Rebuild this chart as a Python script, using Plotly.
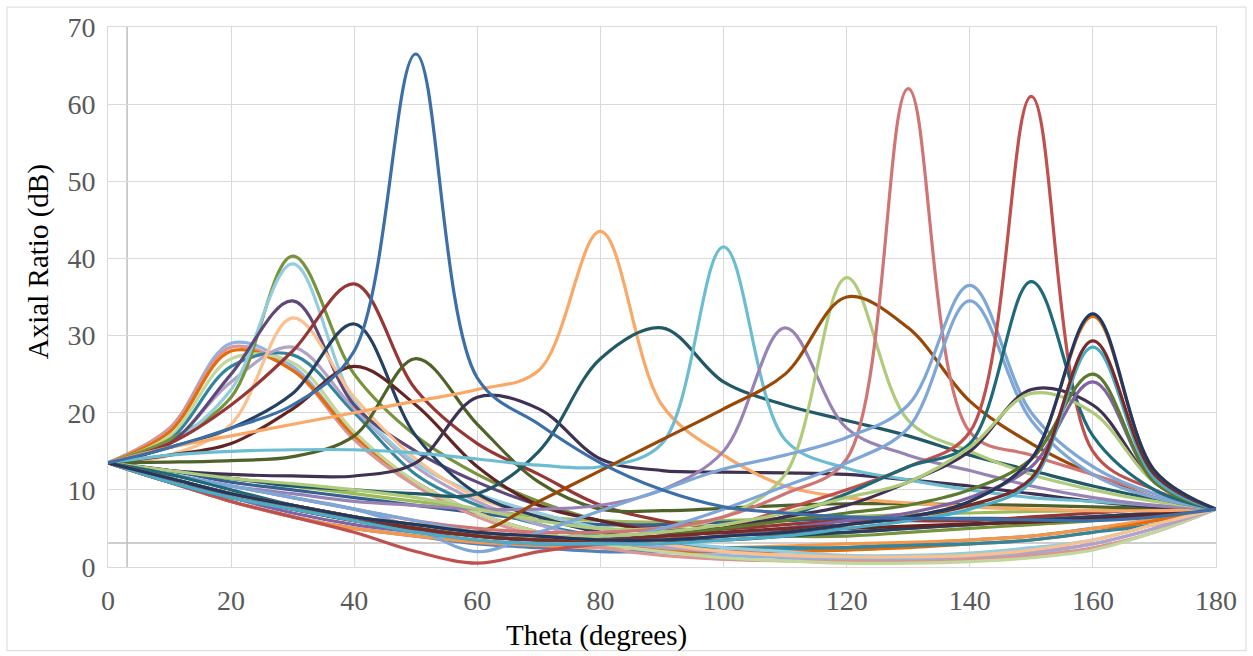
import plotly.graph_objects as go

theta = [0, 10, 20, 30, 40, 50, 60, 70, 80, 90, 100, 110, 120, 130, 140, 150, 160, 170, 180]

# ---- series values (Axial ratio, dB) ----
s_low_blue   = [13.5, 11, 8.5, 6.5, 5, 4, 3, 2.5, 2, 2, 2, 2.2, 2.5, 3, 3.5, 4, 5, 6, 7.5]
s_low_orange = [13.5, 11, 8.5, 6.5, 5, 4, 3.2, 2.8, 2.5, 2.5, 2.5, 2.7, 3, 3.2, 3.5, 4, 5, 6.2, 7.5]
s_mid_green  = [13.5, 12.5, 11.5, 10.5, 9.5, 8.5, 7.5, 6.5, 6, 5.8, 6, 6.3, 6.5, 6.8, 7, 7.2, 7.3, 7.4, 7.5]
s_mid_blue   = [13.5, 12.5, 11, 10, 9, 8, 7, 6, 5.5, 5.5, 5.8, 6, 6.3, 6.3, 6.3, 6.3, 6.5, 7, 7.5]
s_p21_lblue  = [13.5, 18, 29, 26, 17, 11, 7, 4.5, 3, 2, 1.5, 1.2, 1, 1, 1.2, 1.8, 3, 5, 7.5]
s_p21_pink   = [13.5, 18, 28.5, 25.5, 16.5, 10.5, 6.5, 4, 2.5, 1.5, 1, 0.8, 0.7, 0.7, 1, 1.5, 2.5, 4.5, 7.5]
s_p22_orange = [13.5, 17.5, 28, 25.5, 17, 11, 7, 4.5, 3, 2.2, 2, 2, 2.2, 2.5, 3, 3.5, 4.5, 6, 7.5]
s_p23_lgreen = [13.5, 17, 27, 26.5, 17.5, 11, 7, 4.5, 3, 2, 1.2, 0.8, 0.5, 0.5, 0.7, 1.2, 2.2, 4.5, 7.5]
s_p27_teal   = [13.5, 16.5, 26, 27.5, 20, 12, 8, 5.5, 4, 3, 2.5, 2.5, 2.5, 2.8, 3, 3.5, 4.5, 5.5, 7.5]
s_p28_lpurp  = [13.5, 16, 24, 28.5, 20.5, 13, 8.5, 5.5, 3.5, 2.5, 2, 1.5, 1.3, 1.3, 1.5, 2, 3, 5, 7.5]
s_p30_olive  = [13.5, 16.5, 22, 40.3, 25, 17, 12, 8.5, 6, 5, 4.5, 4, 4, 4.5, 5, 5.5, 6, 7, 7.5]
s_p30_cyan   = [13.5, 16, 23, 39.3, 21.5, 13.5, 9.5, 7, 5, 3.5, 2.5, 2, 1.5, 1.5, 1.8, 2.5, 3.5, 5.5, 7.5]
s_p30_purple = [13.5, 16, 25, 34.5, 21, 15, 11, 8, 6, 5, 4.5, 4.5, 4.5, 5, 5.5, 6, 6.5, 7, 7.5]
s_p30_peach  = [13.5, 14.5, 18.5, 32.3, 22, 14, 9, 6.5, 4.5, 3, 2, 1.5, 1.3, 1.3, 1.5, 2.2, 3.5, 5.5, 7.5]
s_p40_dkred  = [13.5, 16, 21, 28, 36.7, 23, 16, 12, 8, 6, 5, 5.5, 6, 6, 6, 6.5, 7, 7.5, 7.5]
s_p39_navy   = [13.5, 15.5, 18, 22.5, 31.5, 17, 9.5, 6.5, 4.5, 3.5, 3.5, 4, 4.5, 5, 5.5, 6, 6.5, 7, 7.5]
s_p41_maroon = [13.5, 14.5, 16, 20.5, 26, 21, 13, 8, 6, 4.5, 4.5, 4.8, 5, 5.3, 5.6, 5.8, 6.2, 6.8, 7.5]
s_p50_dolive = [13.5, 13.6, 13.8, 14.3, 17, 27, 18.5, 11, 7.5, 7.3, 7.6, 8, 8.2, 8.2, 8.1, 8, 7.8, 7.6, 7.5]
s_p50_blue   = [13.5, 15.5, 18, 21, 28, 66.5, 24.5, 18.5, 13.5, 10, 7.8, 7, 6.5, 6.3, 6.2, 6.1, 6, 6.5, 7.5]
s_p63_dpurp  = [13.5, 12.5, 12, 11.8, 11.8, 13.5, 22, 20.5, 14, 12.5, 12.3, 12.2, 12, 11.3, 10.5, 9.5, 8.5, 7.8, 7.5]
s_p80_orange = [13.5, 15.5, 17, 18.5, 20, 21.5, 23, 25.5, 43.5, 21, 14.5, 10.5, 9, 8.3, 7.8, 7.5, 7.3, 7.3, 7.5]
s_p89_dteal  = [13.5, 12.5, 11.5, 10.5, 10, 9.5, 9.5, 15, 27, 31, 24, 21, 19, 17, 14.5, 12.5, 10.5, 8.8, 7.5]
s_p100_cyan  = [13.5, 14.5, 15, 15.2, 15.2, 14.8, 14, 13.2, 13, 16, 41.5, 16.5, 12.8, 11.3, 10, 9, 8.5, 8, 7.5]
s_p110_lpurp = [13.5, 12, 10.5, 9.5, 8.5, 8, 7.5, 7.5, 8, 10, 15, 31, 18, 14.5, 12.5, 10.5, 9, 8, 7.5]
s_p120_lgreen = [13.5, 12.5, 11.5, 10.8, 10, 9, 7.5, 6, 5, 5, 6.5, 12, 37.5, 19, 15, 12, 10, 8.5, 7.5]
s_p122_brown = [13.5, 11, 9, 7.5, 6, 4.8, 4.5, 8.5, 12.5, 16.5, 20.5, 25, 35, 31, 21.5, 16, 12, 9, 7.5]
s_p130_salmon = [13.5, 12, 10.5, 9, 7.5, 6, 5, 4.5, 4.5, 5, 6.5, 9.5, 14, 62, 17.5, 14.5, 12, 9.5, 7.5]
s_p140_lblueA = [13.5, 12, 10.5, 9, 7.5, 5, 2, 4.5, 7.3, 10, 12.7, 14.5, 16.8, 21, 36.5, 20, 13, 9.5, 7.5]
s_p140_lblueB = [13.5, 12, 10.5, 9, 7.5, 6, 4.5, 3.5, 3.5, 5, 7.5, 10.5, 13.5, 18, 34.5, 19, 12, 9, 7.5]
s_p150_red   = [13.5, 11, 8.5, 6.5, 4.5, 2, 0.5, 2, 3, 3.5, 5, 7.5, 10, 13, 17.5, 61, 15, 10, 7.5]
s_p150_teal  = [13.5, 12, 10, 8, 6.5, 5, 4, 3.5, 3.5, 4, 5, 6.5, 9.5, 13, 16, 37, 17, 10, 7.5]
s_p153_dpurp = [13.5, 11, 9, 7.5, 6, 5, 4, 3.5, 3.5, 4, 5, 6.5, 8, 11, 15, 23, 21, 11, 7.5]
s_p152_lgreen = [13.5, 11.5, 9.5, 8, 6.5, 5.5, 4.5, 4, 4, 4.5, 5.5, 7, 9, 11, 15.5, 22.5, 20, 11, 7.5]
s_p160_purple = [13.5, 11, 9, 7, 5.5, 4.5, 3.5, 3, 3, 3.5, 4, 5, 6, 7, 9, 13, 24, 11, 7.5]
s_p160_olive = [13.5, 11.5, 9.5, 8, 6.5, 5, 4, 3.5, 3.5, 4, 5, 6, 7, 8, 10, 14, 25, 11, 7.5]
s_p160_aqua  = [13.5, 11, 9, 7.5, 6, 4.5, 3.5, 3, 3, 3, 3.5, 4, 5, 6, 7.5, 11, 28.5, 11.5, 7.5]
s_p160_dkred = [13.5, 11.5, 9.5, 8, 6.5, 5, 4, 3.5, 3.5, 4, 4.5, 5, 5.5, 6.5, 8, 11.5, 29.3, 12, 7.5]
s_p160_orange = [13.5, 11.5, 9.5, 8, 6.5, 5.5, 4.5, 4, 3.5, 3.5, 4, 4.5, 5.5, 6.5, 8.5, 14, 32.5, 12.5, 7.5]
s_p160_navy  = [13.5, 11.5, 9.5, 8, 6.5, 5.5, 4.5, 4, 3.5, 3.5, 4, 4.5, 5.5, 6.5, 8.5, 14, 32.8, 12.5, 7.5]

series = [
    (s_low_blue, "#4F81BD"), (s_low_orange, "#F79646"), (s_mid_green, "#9BBB59"),
    (s_mid_blue, "#366092"), (s_p21_lblue, "#8EB4E3"), (s_p21_pink, "#D99694"),
    (s_p22_orange, "#E46C0A"), (s_p23_lgreen, "#C3D69B"), (s_p27_teal, "#31859C"),
    (s_p28_lpurp, "#B3A2C7"), (s_p30_olive, "#77933C"), (s_p30_cyan, "#93CDDD"),
    (s_p30_purple, "#5F497A"), (s_p30_peach, "#FAC090"), (s_p40_dkred, "#953735"),
    (s_p39_navy, "#254061"), (s_p41_maroon, "#632523"), (s_p50_dolive, "#4F6228"),
    (s_p63_dpurp, "#403152"), (s_p80_orange, "#F9A867"), (s_p89_dteal, "#215967"),
    (s_p100_cyan, "#6CBDD1"), (s_p110_lpurp, "#9983B5"), (s_p120_lgreen, "#B0CB7C"),
    (s_p122_brown, "#984807"), (s_p130_salmon, "#D07573"), (s_p140_lblueA, "#7EA6D6"),
    (s_p140_lblueB, "#7EA6D6"), (s_p150_red, "#C0504D"), (s_p150_teal, "#1F6A7A"),
    (s_p153_dpurp, "#403152"), (s_p152_lgreen, "#AFC97A"), (s_p160_purple, "#8064A2"),
    (s_p160_olive, "#5E7A2E"), (s_p160_aqua, "#4BACC6"), (s_p160_dkred, "#772C2A"),
    (s_p160_orange, "#E46C0A"), (s_p160_navy, "#1F3864"), (s_p50_blue, "#3C6EA8"),
]

fig = go.Figure()
for vals, col in series:
    fig.add_trace(go.Scatter(x=theta, y=vals, mode="lines",
                             line=dict(color=col, width=3.2, shape="spline", smoothing=1.0),
                             showlegend=False, hoverinfo="skip"))

serif = "Liberation Serif, Times New Roman, serif"
fig.update_layout(
    width=1253, height=656,
    margin=dict(l=108, r=37, t=25, b=89),
    paper_bgcolor="white", plot_bgcolor="white",
    font=dict(family=serif, size=28, color="#595959"),
)
fig.update_xaxes(range=[0, 180], dtick=20, tick0=0, showgrid=True, gridcolor="#D9D9D9",
                 gridwidth=1, zeroline=False, showline=True, linecolor="#D9D9D9",
                 mirror=True, ticks="", ticklabelstandoff=8,
                 tickfont=dict(family=serif, size=28, color="#595959"))
fig.update_yaxes(range=[0, 70], dtick=10, tick0=0, showgrid=True, gridcolor="#D9D9D9",
                 gridwidth=1, zeroline=False, showline=True, linecolor="#D9D9D9",
                 mirror=True, ticks="", ticklabelstandoff=6,
                 tickfont=dict(family=serif, size=28, color="#595959"))

# extra grey reference lines and chart border
fig.add_shape(type="line", xref="x", yref="paper", x0=3.1, x1=3.1, y0=0, y1=1,
              line=dict(color="#BFBFBF", width=1.5), layer="below")
fig.add_shape(type="line", xref="paper", yref="y", x0=0, x1=1, y0=3.1, y1=3.1,
              line=dict(color="#BFBFBF", width=1.5), layer="below")
fig.add_shape(type="rect", xref="paper", yref="paper",
              x0=(7 - 108) / 1108, x1=(1246 - 108) / 1108,
              y0=(567 - 651) / 542, y1=(567 - 5) / 542,
              line=dict(color="#D9D9D9", width=1), layer="below")

fig.add_annotation(text="Theta (degrees)", xref="paper", yref="paper",
                   x=(596 - 108) / 1108, y=(567 - 636) / 542, showarrow=False,
                   font=dict(family=serif, size=29, color="#000000"),
                   xanchor="center", yanchor="middle")
fig.add_annotation(text="Axial Ratio (dB)", xref="paper", yref="paper",
                   x=(38 - 108) / 1108, y=(567 - 261) / 542, showarrow=False,
                   textangle=-90,
                   font=dict(family=serif, size=29, color="#000000"),
                   xanchor="center", yanchor="middle")

fig.write_html("out.html")
